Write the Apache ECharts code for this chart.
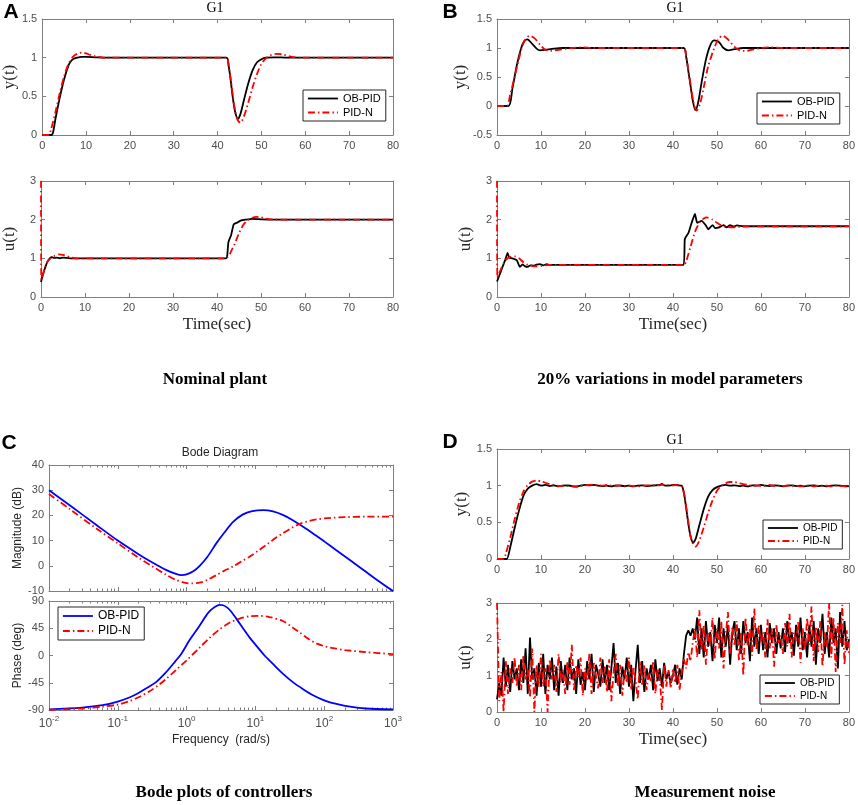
<!DOCTYPE html>
<html>
<head>
<meta charset="utf-8">
<script src="https://cdn.jsdelivr.net/npm/echarts@6/dist/echarts.min.js"></script>
</head>
<body style="margin:0;background:#fff">
<div id="main" style="width:858px;height:805px"></div>
<script type="text/javascript">
// ---------- data ----------
var NAMES = ['OB-PID', 'PID-N'];

// A: nominal plant, y(t)
var A_Y_OB = [[0,0],[2.1,0],[2.5,0.04],[3,0.2],[4,0.48],[5,0.72],[6,0.9],[6.5,0.95],[7,0.98],[8,1.0],[9,1.01],[10,1.01],[12,1.005],[14,1.0],[42,1.0],[42.5,0.9],[43,0.7],[43.5,0.47],[44,0.3],[44.6,0.21],[45.2,0.27],[46,0.45],[47,0.67],[48,0.84],[49,0.94],[50,0.98],[51,1.0],[53,1.005],[56,1.0],[80,1.0]];
var A_Y_PN = [[0,0],[1.5,0],[2,0.07],[3,0.29],[4,0.54],[5,0.76],[6,0.92],[7,1.01],[8,1.05],[9,1.065],[10,1.055],[11,1.035],[12,1.02],[13,1.01],[14,1.0],[42,1.0],[42.5,0.9],[43,0.72],[43.5,0.5],[44,0.31],[44.6,0.19],[45.2,0.16],[46,0.24],[47,0.42],[48,0.62],[49,0.79],[50,0.92],[51,0.99],[52,1.03],[53.5,1.05],[55,1.04],[57,1.01],[59,1.0],[80,1.0]];
// A: nominal plant, u(t)
var A_U_OB = [[0,0.39],[0.5,0.6],[1,0.78],[1.5,0.92],[2,1.0],[2.5,1.03],[3,1.01],[3.5,1.02],[4.3,1.0],[5,1.02],[6,1.01],[7,1.0],[9,1.0],[42,1.0],[42.3,1.05],[42.6,1.42],[43.2,1.6],[43.8,1.88],[44.5,1.92],[45.5,1.98],[46.5,2.0],[48,2.02],[50,2.01],[52,2.0],[80,2.0]];
var A_U_PN = [[0,3],[0.08,0.45],[0.5,0.6],[1,0.78],[1.5,0.92],[2,0.98],[3,1.06],[4,1.1],[5,1.09],[6,1.05],[7,1.02],[8,1.0],[42,1.0],[42.5,1.04],[43,1.13],[44,1.37],[45,1.65],[46,1.87],[47,1.99],[48,2.05],[49,2.07],[50,2.06],[51,2.03],[52.5,2.01],[55,2.0],[80,2.0]];

// B: 20% parameter variation, y(t)
var B_Y_OB = [[0,0],[2.6,0],[3.5,0.3],[4.5,0.7],[5.5,1.0],[6.2,1.12],[6.9,1.15],[8,1.07],[9,0.99],[9.8,0.96],[11,0.97],[13,0.99],[15,1.0],[42.4,1.0],[43,0.85],[43.5,0.6],[44,0.35],[44.5,0.1],[45.1,-0.07],[45.7,0.05],[46.5,0.4],[47.5,0.8],[48.5,1.05],[49.4,1.13],[50.5,1.1],[51.5,1.0],[52.6,0.96],[54,0.98],[56,1.0],[80,1.0]];
var B_Y_PN = [[0,0],[2.2,0],[3,0.2],[4,0.5],[5,0.82],[6,1.08],[7.4,1.21],[8.5,1.17],[10,1.04],[11,0.97],[12.3,0.95],[14,0.97],[16,0.99],[19,1.01],[22,1.0],[42.4,1.0],[43,0.86],[43.5,0.62],[44,0.38],[44.7,0.05],[45.4,-0.08],[46.2,0.05],[47,0.32],[48,0.68],[49.4,1.0],[50.3,1.15],[51.3,1.21],[52.5,1.15],[54,1.02],[55.2,0.96],[56.5,0.95],[58,0.97],[60,1.0],[62,1.01],[65,1.0],[80,1.0]];
// B: u(t)
var B_U_OB = [[0,0.4],[0.5,0.55],[1,0.7],[1.5,0.85],[2,1.0],[2.4,1.14],[2.8,1.02],[3.5,1.0],[4.5,0.95],[5.2,0.78],[5.8,0.84],[6.3,0.8],[7,0.78],[7.6,0.82],[8.3,0.81],[9,0.84],[9.8,0.85],[10.5,0.82],[11.3,0.85],[12,0.83],[42.4,0.83],[42.7,1.5],[43.5,1.65],[44.2,1.9],[45,2.15],[45.5,1.92],[46.5,1.97],[47.5,1.85],[48,1.75],[49,1.86],[49.6,1.78],[50.5,1.8],[51.5,1.86],[52.2,1.8],[53,1.86],[53.8,1.82],[54.5,1.85],[56,1.83],[80,1.83]];
var B_U_PN = [[0,3],[0.08,0.5],[0.5,0.62],[1,0.75],[1.5,0.87],[2,0.96],[2.5,1.01],[3,1.04],[4,1.05],[5,1.0],[6,0.9],[7,0.83],[8,0.8],[9,0.79],[10,0.8],[11,0.82],[12,0.83],[42.5,0.83],[43,0.92],[44,1.3],[45,1.68],[46,1.92],[47,2.03],[47.7,2.06],[49,2.0],[50,1.92],[51,1.85],[52,1.82],[53.5,1.8],[55,1.81],[57,1.83],[80,1.83]];

// C: Bode plots of the controllers, [rad/s, value]
var C_MAG_OB = [[0.01,30],[0.02,24],[0.05,16],[0.1,10],[0.2,4.6],[0.3,1.7],[0.5,-1.6],[0.7,-3.2],[0.85,-3.7],[1.0,-3.4],[1.25,-2.2],[1.55,0.0],[2.0,3.5],[2.7,8.9],[3.5,13],[4.7,17.3],[6.5,20.3],[9,21.7],[13,22.1],[18,21.6],[25,20.2],[35,18.1],[50,15.4],[75,12.1],[100,9.7],[150,6.2],[250,1.8],[400,-2.3],[600,-5.8],[1000,-10]];
var C_MAG_PN = [[0.01,28.5],[0.02,22.5],[0.05,14.6],[0.1,8.9],[0.2,3.2],[0.3,0.2],[0.5,-3.5],[0.7,-5.6],[1.0,-6.9],[1.2,-7.0],[1.6,-6.6],[2.0,-5.6],[2.7,-3.7],[3.5,-2.0],[4.7,-0.3],[6.5,2.0],[8.2,3.6],[11,6.0],[14.4,8.3],[20,11.2],[25,12.9],[35,15.3],[44,16.6],[60,17.8],[77,18.4],[100,18.8],[134,19.1],[200,19.3],[410,19.5],[1000,19.5]];
var C_PH_OB = [[0.01,-89],[0.03,-86],[0.06,-82],[0.1,-76],[0.15,-69],[0.2,-62],[0.28,-52],[0.36,-44],[0.5,-28],[0.68,-10],[0.84,3],[1.1,25],[1.5,47],[1.9,65],[2.2,74],[2.6,80.5],[3.0,83.5],[3.4,83],[3.9,79],[4.4,73],[5.5,58],[6.6,45],[8.2,30],[10,18],[13.6,0],[18,-14],[25,-30],[35,-44],[50,-56],[70,-66],[100,-74],[150,-80],[250,-85],[400,-87.5],[1000,-89]];
var C_PH_PN = [[0.01,-90],[0.03,-87.5],[0.06,-84.5],[0.1,-81],[0.15,-75],[0.2,-69],[0.29,-59],[0.4,-48],[0.5,-39],[0.7,-24],[1.0,-8],[1.55,13],[2.2,30],[3.0,43],[4.2,54],[5.9,61],[8,64.5],[11.5,65.5],[16,63.5],[25,57],[35,46],[44,38],[60,27],[77,20],[100,15.5],[134,12],[200,9],[410,5.5],[1000,2.2]];
var DECADES = [0.01, 0.1, 1, 10, 100, 1000];

// D: measurement noise, y(t)
var D_Y_OB = [[0,0],[2.2,0],[3,0.16],[4,0.42],[5,0.66],[6,0.86],[7,0.96],[8,1.0],[9,1.02],[10,1.0],[11,1.01],[12,0.995],[13,1.005],[14,0.99],[15,1.0],[16,1.005],[17,0.995],[18,0.99],[19,1.0],[20,1.01],[21,1.005],[22,1.01],[23,1.0],[24,0.995],[25,1.0],[26,0.99],[27,1.005],[28,1.0],[29,0.995],[30,1.0],[31,0.99],[32,1.0],[33,1.005],[34,0.995],[35,1.0],[36,1.005],[37,1.01],[37.5,1.025],[38,1.005],[39,1.0],[40,1.01],[41,1.005],[42,1.0],[42.5,0.9],[43,0.7],[43.5,0.48],[44,0.31],[44.6,0.22],[45.2,0.28],[46,0.46],[47,0.68],[48,0.85],[49,0.94],[50,0.98],[51,1.0],[52,1.01],[53,1.0],[54,1.005],[55,0.995],[56,1.0],[57,0.99],[58,1.005],[59,1.0],[60,1.01],[61,1.0],[62,0.995],[63,1.005],[64,1.0],[65,0.99],[66,1.0],[67,1.005],[68,0.995],[69,1.0],[70,0.99],[71,1.0],[72,1.005],[73,0.995],[74,1.0],[75,0.99],[76,1.0],[77,1.005],[78,1.0],[79,0.995],[80,0.99]];
var D_Y_PN = [[0,0],[1.5,0],[2,0.07],[3,0.29],[4,0.54],[5,0.76],[6,0.92],[7,1.01],[8,1.055],[9,1.07],[10,1.06],[11,1.04],[12,1.02],[13,1.01],[14,0.995],[15,1.0],[16,0.995],[17,0.99],[18,0.985],[19,0.995],[20,1.005],[21,1.01],[22,1.015],[23,1.005],[24,1.0],[25,1.01],[26,1.0],[27,0.995],[28,1.005],[29,0.99],[30,1.0],[31,0.995],[32,0.99],[33,1.0],[34,1.005],[35,1.0],[36,1.01],[37,1.005],[38,1.015],[39,1.01],[40,1.005],[41,1.01],[42,1.0],[42.5,0.9],[43,0.72],[43.5,0.5],[44,0.31],[44.6,0.2],[45.2,0.17],[46,0.25],[47,0.43],[48,0.63],[49,0.8],[50,0.93],[51,1.0],[52,1.035],[53,1.05],[54,1.05],[55,1.035],[56,1.02],[57,1.01],[58,1.0],[59,1.005],[60,0.995],[61,1.0],[62,1.01],[63,0.995],[64,1.0],[65,0.99],[66,1.005],[67,0.995],[68,1.0],[69,0.99],[70,0.995],[71,1.005],[72,0.99],[73,1.0],[74,0.995],[75,1.0],[76,0.99],[77,1.0],[78,0.995],[79,0.99],[80,0.985]];
// D: u(t), one sample every DT seconds from t = 0
var DT = 0.5;
var D_U_OB = [
  0.35,0.8,0.45,1.5,0.7,1.3,0.55,1.4,0.9,1.2,
  0.6,1.45,0.8,1.75,0.5,2.05,0.9,1.2,0.45,1.35,
  0.7,1.6,0.5,1.3,0.9,1.5,0.6,1.25,0.45,1.4,
  0.8,1.3,0.6,1.5,0.9,1.2,0.5,1.45,0.75,1.1,
  0.6,1.4,0.9,1.6,0.55,1.3,1.05,0.7,1.45,0.8,
  1.3,0.6,1.2,1.9,0.8,1.35,0.5,1.25,0.9,1.5,
  0.7,1.3,0.3,1.15,1.85,0.8,1.4,0.55,1.2,0.9,
  1.3,0.6,1.45,0.85,1.2,0.7,1.35,0.9,1.1,0.8,
  1.0,1.3,0.75,1.2,0.9,1.6,2.1,2.25,2.1,2.3,
  2.0,2.6,1.6,2.3,1.5,2.5,1.8,2.2,1.4,2.4,
  1.9,2.6,1.5,2.3,1.8,2.4,1.3,2.2,2.5,1.7,
  2.3,1.6,2.5,1.9,2.2,1.4,2.6,1.8,2.3,1.6,
  2.4,1.7,2.2,1.5,2.45,1.9,2.3,1.6,2.2,1.75,
  2.3,1.65,2.5,1.9,2.2,1.55,2.4,1.8,2.6,1.7,
  2.2,1.5,2.4,1.8,2.5,1.3,2.3,1.9,2.7,1.6,
  2.2,1.5,2.6,1.9,2.3,1.2,2.75,1.8,2.5,1.7,
  2.0];
var D_U_PN = [
  3.0,0.3,1.1,0.0,1.4,0.5,1.2,0.8,1.5,0.7,
  1.3,0.6,1.55,0.9,1.2,0.4,1.75,0.0,1.3,0.7,
  1.6,0.7,1.2,0.0,1.45,0.9,1.3,0.55,1.6,0.8,
  1.15,0.5,1.4,0.75,1.85,0.6,1.3,0.95,1.5,0.45,
  1.2,0.85,1.6,0.5,1.35,1.0,0.65,1.5,0.8,1.25,
  0.55,1.45,0.3,1.1,1.6,0.7,1.3,0.45,1.15,0.8,
  1.5,0.6,1.25,0.9,0.35,1.4,0.75,1.3,0.6,1.1,
  0.85,1.4,0.5,1.2,0.95,0.05,1.3,0.7,1.15,0.65,
  1.2,0.8,1.3,0.6,1.1,1.45,1.2,1.65,1.4,1.9,
  2.3,1.5,2.8,1.7,2.4,1.3,2.2,1.8,2.6,1.45,
  2.3,1.75,2.5,1.2,2.1,2.75,1.6,2.35,1.85,2.5,
  1.4,2.2,1.0,2.6,1.8,2.3,1.55,2.85,1.7,2.4,
  1.9,2.2,1.5,2.55,1.75,2.3,1.25,2.4,1.9,2.1,
  1.6,2.45,1.8,2.7,1.5,2.2,1.95,2.5,1.35,2.3,
  1.7,2.6,1.85,2.9,1.4,2.35,1.65,2.5,1.25,2.2,
  1.8,3.0,1.5,2.6,1.1,2.45,1.9,2.95,1.3,2.25,
  1.6];

// ---------- styling ----------
var AXC = '#7f7f7f', LBL = '#4d4d4d';
var DASHDOT = [7, 3, 1.5, 3];
var SANS = 'Liberation Sans', SERIF = 'Liberation Serif';

var grids = [], xAxes = [], yAxes = [], series = [], legends = [];

function baseAxis(gi, type, pos, min, max, interval) {
  var a = {
    gridIndex: gi, type: type, position: pos, min: min, max: max,
    axisLine: {show: true, onZero: false, lineStyle: {color: AXC, width: 1}},
    axisTick: {show: true, inside: true, length: 4, lineStyle: {color: AXC, width: 1}},
    axisLabel: {show: false, color: LBL, fontSize: 11, fontFamily: SANS, margin: 5},
    splitLine: {show: false}
  };
  if (type === 'log') a.logBase = 10;
  if (interval != null) a.interval = interval;
  return a;
}

function timePanel(box, ymin, ymax, yint, yName, yGap, showTime) {
  var gi = grids.length;
  grids.push({left: box[0], top: box[1], width: box[2], height: box[3]});
  var xb = baseAxis(gi, 'value', 'bottom', 0, 80, 10);
  xb.axisLabel.show = true;
  if (showTime) {
    xb.name = 'Time(sec)'; xb.nameLocation = 'middle'; xb.nameGap = 19;
    xb.nameTextStyle = {fontFamily: SERIF, fontSize: 17, color: '#262626'};
  }
  xAxes.push(xb);
  xAxes.push(baseAxis(gi, 'value', 'top', 0, 80, 10));
  var yl = baseAxis(gi, 'value', 'left', ymin, ymax, yint);
  yl.axisLabel.show = true;
  yl.name = yName; yl.nameLocation = 'middle'; yl.nameGap = yGap;
  yl.nameTextStyle = {fontFamily: SERIF, fontSize: 17, color: '#262626'};
  yAxes.push(yl);
  yAxes.push(baseAxis(gi, 'value', 'right', ymin, ymax, yint));
  return {x: xAxes.length - 2, y: yAxes.length - 2};
}

var MINOR = [];
for (var d = 0; d < DECADES.length - 1; d++)
  for (var k = 2; k < 10; k++) MINOR.push(+(k * DECADES[d]).toPrecision(3));

function bodePanel(box, ymin, ymax, yint, yName, showFreq) {
  var gi = grids.length;
  grids.push({left: box[0], top: box[1], width: box[2], height: box[3]});
  var first = xAxes.length;
  ['bottom', 'top'].forEach(function (pos) {
    var major = baseAxis(gi, 'log', pos, 0.01, 1000);
    major.axisTick.customValues = DECADES;
    if (pos === 'bottom' && showFreq) {
      major.axisLabel.show = true;
      major.axisLabel.customValues = DECADES;
      major.axisLabel.formatter = function (v) {
        return '{b|10}{e|' + Math.round(Math.log10(v)) + '}';
      };
      major.axisLabel.rich = {
        b: {fontSize: 12, color: LBL, fontFamily: SANS, verticalAlign: 'bottom'},
        e: {fontSize: 8, color: LBL, fontFamily: SANS, verticalAlign: 'bottom', padding: [0, 0, 7, 0]}
      };
      major.name = 'Frequency  (rad/s)'; major.nameLocation = 'middle'; major.nameGap = 24;
      major.nameTextStyle = {fontFamily: SANS, fontSize: 12, color: '#262626'};
    }
    xAxes.push(major);
    var minor = baseAxis(gi, 'log', pos, 0.01, 1000);
    minor.axisLine.show = false;
    minor.axisTick.customValues = MINOR;
    minor.axisTick.length = 2.5;
    xAxes.push(minor);
  });
  var yl = baseAxis(gi, 'value', 'left', ymin, ymax, yint);
  yl.axisLabel.show = true;
  yl.name = yName; yl.nameLocation = 'middle'; yl.nameGap = 25;
  yl.nameTextStyle = {fontFamily: SANS, fontSize: 12, color: '#262626'};
  yAxes.push(yl);
  yAxes.push(baseAxis(gi, 'value', 'right', ymin, ymax, yint));
  return {x: first, y: yAxes.length - 2};
}

function addLine(ax, name, data, color, dash, smooth) {
  series.push({
    type: 'line', name: name, xAxisIndex: ax.x, yAxisIndex: ax.y, data: data,
    symbol: 'none', showSymbol: false, smooth: smooth, silent: true,
    lineStyle: {color: color, width: 1.8, type: dash}, itemStyle: {color: color}
  });
}

// legend entries: line sample only, the marker is made invisible
function addLegend(left, top, fs, c1, c2) {
  var hide = {color: 'rgba(0,0,0,0)', borderWidth: 0, opacity: 0};
  legends.push({
    left: left, top: top, orient: 'vertical', selectedMode: false,
    itemWidth: 30, itemHeight: 10, itemGap: 3, padding: [3, 5, 3, 4],
    borderColor: '#262626', borderWidth: 1, borderRadius: 0, backgroundColor: '#fff',
    textStyle: {fontSize: fs, fontFamily: SANS, color: '#000'},
    data: [
      {name: NAMES[0], lineStyle: {color: c1, type: 'solid', width: 1.8, opacity: 1}, itemStyle: hide},
      {name: NAMES[1], lineStyle: {color: c2, type: DASHDOT, width: 1.8, opacity: 1}, itemStyle: hide}
    ]
  });
}

function pairs(vals) {
  return vals.map(function (v, i) { return [i * DT, v]; });
}

// ---------- panels ----------
var a1 = timePanel([39, 19, 354, 116], 0, 1.5, 0.5, 'y(t)', 23, false);
addLine(a1, NAMES[0], A_Y_OB, '#000', 'solid', 0.3);
addLine(a1, NAMES[1], A_Y_PN, '#f00', DASHDOT, 0.3);
addLegend(303, 90, 11, '#000', '#f00');
var a2 = timePanel([39, 181, 354, 116], 0, 3, 1, 'u(t)', 23, true);
addLine(a2, NAMES[0], A_U_OB, '#000', 'solid', 0.2);
addLine(a2, NAMES[1], A_U_PN, '#f00', DASHDOT, 0.2);

var b1 = timePanel([497, 19, 353, 116], -0.5, 1.5, 0.5, 'y(t)', 28, false);
addLine(b1, NAMES[0], B_Y_OB, '#000', 'solid', 0.3);
addLine(b1, NAMES[1], B_Y_PN, '#f00', DASHDOT, 0.3);
addLegend(757, 93, 11, '#000', '#f00');
var b2 = timePanel([497, 181, 353, 116], 0, 3, 1, 'u(t)', 23, true);
addLine(b2, NAMES[0], B_U_OB, '#000', 'solid', 0.15);
addLine(b2, NAMES[1], B_U_PN, '#f00', DASHDOT, 0.2);

var c1 = bodePanel([49, 465, 344, 126], -10, 40, 10, 'Magnitude (dB)', false);
addLine(c1, NAMES[0], C_MAG_OB, '#0000ff', 'solid', 0.3);
addLine(c1, NAMES[1], C_MAG_PN, '#f00', DASHDOT, 0.3);
var c2 = bodePanel([49, 601, 344, 109], -90, 90, 45, 'Phase (deg)', true);
addLine(c2, NAMES[0], C_PH_OB, '#0000ff', 'solid', 0.3);
addLine(c2, NAMES[1], C_PH_PN, '#f00', DASHDOT, 0.3);
addLegend(58, 607, 12, '#0000ff', '#f00');

var d1 = timePanel([497, 449, 353, 110], 0, 1.5, 0.5, 'y(t)', 27, false);
addLine(d1, NAMES[0], D_Y_OB, '#000', 'solid', 0.2);
addLine(d1, NAMES[1], D_Y_PN, '#f00', DASHDOT, 0.2);
addLegend(763, 520, 10, '#000', '#f00');
var d2 = timePanel([497, 603, 353, 109], 0, 3, 1, 'u(t)', 23, true);
addLine(d2, NAMES[0], pairs(D_U_OB), '#000', 'solid', false);
addLine(d2, NAMES[1], pairs(D_U_PN), '#f00', DASHDOT, false);
addLegend(760, 675, 10, '#000', '#f00');

// ---------- texts ----------
function txt(x, y, s, size, family, weight, color) {
  return {type: 'text', x: x, y: y, z: 100, style: {text: s, fontSize: size, fontFamily: family,
    fontWeight: weight || 'normal', fill: color || '#000', align: 'center', verticalAlign: 'middle'}};
}
var texts = [
  txt(11, 12, 'A', 21, SANS, 'bold'), txt(450, 12, 'B', 21, SANS, 'bold'),
  txt(9, 443, 'C', 21, SANS, 'bold'), txt(450, 442, 'D', 21, SANS, 'bold'),
  txt(215, 8, 'G1', 14, SERIF), txt(675, 8, 'G1', 14, SERIF), txt(675, 440, 'G1', 14, SERIF),
  txt(220, 453, 'Bode Diagram', 12, SANS, 'normal', '#262626'),
  txt(215, 380, 'Nominal plant', 17, SERIF, 'bold'),
  txt(670, 380, '20% variations in model parameters', 17, SERIF, 'bold'),
  txt(224, 793, 'Bode plots of controllers', 17, SERIF, 'bold'),
  txt(705, 793, 'Measurement noise', 17, SERIF, 'bold')
];

var myChart = echarts.init(document.getElementById('main'));
myChart.setOption({
  animation: false,
  backgroundColor: '#fff',
  grid: grids,
  xAxis: xAxes,
  yAxis: yAxes,
  legend: legends,
  series: series,
  graphic: texts
});
</script>
</body>
</html>
